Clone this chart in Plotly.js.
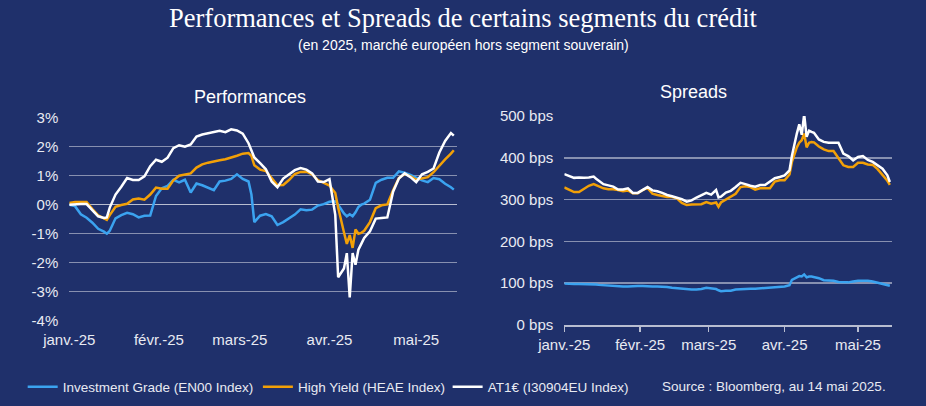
<!DOCTYPE html>
<html>
<head>
<meta charset="utf-8">
<script src="https://cdn.plot.ly/plotly-3.0.1.min.js"></script>
<style>html,body{margin:0;padding:0;background:#1F306B;}#chart{width:926px;height:406px;}</style>
</head>
<body>
<div id="chart"></div>
<script>
const dates = ['2025-01-01','2025-01-03','2025-01-05','2025-01-07','2025-01-09','2025-01-11','2025-01-13','2025-01-14','2025-01-15','2025-01-17','2025-01-19','2025-01-21','2025-01-23','2025-01-25','2025-01-27','2025-01-29','2025-01-31',
'2025-02-02','2025-02-04','2025-02-06','2025-02-08','2025-02-10','2025-02-12','2025-02-14','2025-02-16','2025-02-18','2025-02-20','2025-02-22','2025-02-24','2025-02-26','2025-02-28',
'2025-03-02','2025-03-04','2025-03-05','2025-03-06','2025-03-08','2025-03-10','2025-03-12','2025-03-14','2025-03-16','2025-03-18','2025-03-20','2025-03-22','2025-03-24','2025-03-26','2025-03-28','2025-03-30',
'2025-04-01','2025-04-03','2025-04-04','2025-04-06','2025-04-07','2025-04-08','2025-04-09','2025-04-10','2025-04-11','2025-04-12','2025-04-13','2025-04-15','2025-04-17','2025-04-19','2025-04-21','2025-04-23','2025-04-25','2025-04-27','2025-04-29',
'2025-05-01','2025-05-03','2025-05-05','2025-05-07','2025-05-09','2025-05-11','2025-05-13','2025-05-14'];

// Performances (%)
const perfIG = [0,-0.05,-0.33,-0.45,-0.62,-0.83,-0.93,-1.0,-0.9,-0.47,-0.36,-0.28,-0.33,-0.44,-0.38,-0.37,0.3,
0.57,0.65,0.86,0.77,0.86,0.42,0.73,0.67,0.58,0.5,0.8,0.83,0.89,1.05,
0.89,0.8,0.35,-0.6,-0.38,-0.32,-0.4,-0.7,-0.6,-0.48,-0.34,-0.16,-0.19,-0.17,-0.03,0.02,
0.1,0.12,0.0,-0.3,-0.4,-0.33,-0.4,-0.26,-0.08,0.0,0.04,0.17,0.75,0.86,0.93,0.93,1.15,1.1,1.03,
0.93,0.84,0.78,0.92,0.88,0.72,0.6,0.52];
const perfHY = [0.06,0.09,0.09,0.09,-0.15,-0.37,-0.47,-0.52,-0.36,-0.07,-0.01,0.03,0.18,0.21,0.17,0.35,0.59,
0.55,0.55,0.84,1.0,1.05,1.08,1.28,1.39,1.45,1.5,1.53,1.57,1.62,1.69,
1.76,1.78,1.68,1.36,1.21,1.16,0.92,0.67,0.68,0.85,1.06,1.13,1.14,1.05,0.85,0.75,
0.66,0.4,-0.1,-0.95,-1.35,-1.05,-1.49,-0.85,-1.0,-0.97,-0.9,-0.6,-0.12,-0.02,0.01,0.5,0.92,1.06,0.98,
0.86,0.9,0.95,1.12,1.35,1.56,1.76,1.88];
const perfAT1 = [0,0.02,0.02,0.02,-0.2,-0.4,-0.46,-0.44,-0.1,0.35,0.62,0.92,0.85,0.85,0.98,1.33,1.55,
1.48,1.62,1.95,2.05,2.0,2.08,2.35,2.42,2.46,2.52,2.55,2.5,2.6,2.56,
2.45,2.12,1.85,1.63,1.43,1.22,0.8,0.6,0.9,1.06,1.19,1.26,1.21,1.08,0.8,0.78,
0.88,-0.35,-2.5,-2.2,-1.67,-3.2,-1.67,-2.07,-1.55,-1.35,-1.15,-0.92,-0.48,-0.46,-0.44,0.45,0.9,1.08,0.95,
0.78,1.05,1.13,1.25,1.8,2.2,2.47,2.38];

// Spreads (bps)
const sprIG = [99,98,98,98,98,98,97,97,96,95,94,93,93,92,92,93,93,
93,92,92,92,92,91,89,88,86,85,85,85,86,89,
88,86,83,81,82,82,85,86,86,87,87,88,88,89,90,91,
92,95,108,114,117,116,121,114,116,116,115,112,107,107,106,103,102,102,104,
106,106,106,104,101,98,95,94];
const sprHY = [329,323,318,318,325,333,337,334,331,327,325,325,323,320,322,315,315,
323,328,314,311,309,306,306,303,292,287,288,289,289,294,
290,293,283,293,300,306,314,330,332,330,324,327,327,327,343,346,
346,360,390,425,436,442,458,425,436,438,437,427,420,416,416,400,382,378,378,
388,388,384,383,373,360,345,335];
const sprAT1 = [361,356,352,353,352,353,355,350,346,337,334,331,324,324,327,316,316,
324,330,322,320,316,311,308,305,301,295,298,305,311,316,
312,323,305,307,317,321,330,340,337,333,331,335,335,342,351,354,
358,370,405,458,480,455,504,450,465,462,460,444,438,436,436,436,410,404,394,
402,404,395,390,382,374,358,342];

const seriesNames = ['Investment Grade (EN00 Index)','High Yield (HEAE Index)','AT1€ (I30904EU Index)'];
const seriesColors = ['#3BA3F0','#F2A007','#FFFFFF'];
const tickDates = ['2025-01-01','2025-02-01','2025-03-01','2025-04-01','2025-05-01'];
const tickLabels = ['janv.-25','févr.-25','mars-25','avr.-25','mai-25'];
const perfTicks = [-4,-3,-2,-1,0,1,2,3];
const perfTickLabels = ['-4%','-3%','-2%','-1%','0%','1%','2%','3%'];
const sprTicks = [0,100,200,300,400,500];
const sprTickLabels = ['0 bps','100 bps','200 bps','300 bps','400 bps','500 bps'];

const bg = '#1F306B';
const grid = '#8790B0';
const txt = '#E8EAF2';
const FONT = '"Liberation Sans", Arial, sans-serif';
const xRange = ['2025-01-01','2025-05-15'];

const perf = [perfIG, perfHY, perfAT1];
const spr = [sprIG, sprHY, sprAT1];
const legends = ['legend','legend2','legend3'];
const traces = [];
for (let i = 0; i < 3; i++) {
  traces.push({x: dates, y: perf[i], type:'scatter', mode:'lines', name: seriesNames[i],
    line:{color: seriesColors[i], width:2.5}, xaxis:'x', yaxis:'y', legend: legends[i], showlegend:true, hoverinfo:'skip'});
}
for (let i = 0; i < 3; i++) {
  traces.push({x: dates, y: spr[i], type:'scatter', mode:'lines', name: seriesNames[i],
    line:{color: seriesColors[i], width:2.5}, xaxis:'x2', yaxis:'y2', showlegend:false, hoverinfo:'skip'});
}

const legBase = {orientation:'h', yanchor:'middle', y:0.047, xanchor:'left', bgcolor:'rgba(0,0,0,0)',
  font:{family:FONT, size:13.5, color:txt}, borderwidth:0, itemwidth:30};

const layout = {
  width:926, height:406,
  margin:{l:0,r:0,t:0,b:0},
  paper_bgcolor:bg, plot_bgcolor:bg,
  font:{family:FONT, color:txt},
  xaxis:{domain:[0.0748,0.4932], anchor:'y', type:'date', range:xRange, tickvals:tickDates, ticktext:tickLabels,
    showgrid:false, zeroline:false, showline:false, ticks:'', tickfont:{family:FONT,size:15,color:txt}, ticklabelstandoff:8},
  xaxis3:{overlaying:'x', anchor:'free', position:0.4958, type:'date', range:xRange, tickvals:tickDates,
    showticklabels:false, showgrid:false, zeroline:false, showline:false, ticks:'outside', ticklen:4, tickwidth:1.5, tickcolor:'#B8BDD0'},
  yaxis:{domain:[0.2101,0.7101], anchor:'x', range:[-4,3], tickvals:perfTicks, ticktext:perfTickLabels,
    showgrid:true, gridcolor:grid, gridwidth:1.5, zeroline:true, zerolinecolor:'#B8BDD0', zerolinewidth:1.5,
    showline:false, ticks:'', tickfont:{family:FONT,size:15,color:txt}, ticklabelstandoff:10},
  xaxis2:{domain:[0.6094,0.9636], anchor:'y2', type:'date', range:xRange, tickvals:tickDates, ticktext:tickLabels,
    showgrid:false, zeroline:false, showline:true, linecolor:'#B8BDD0', linewidth:1.5, ticks:'outside', ticklen:5, tickwidth:1.5, tickcolor:'#B8BDD0',
    tickfont:{family:FONT,size:15,color:txt}},
  yaxis2:{domain:[0.1995,0.7143], anchor:'x2', range:[0,500], tickvals:sprTicks, ticktext:sprTickLabels,
    showgrid:true, gridcolor:grid, gridwidth:1.5, zeroline:false, showline:false, ticks:'',
    tickfont:{family:FONT,size:15,color:txt}, ticklabelstandoff:10},
  legend:Object.assign({}, legBase, {x:0.0245}),
  legend2:Object.assign({}, legBase, {x:0.2785}),
  legend3:Object.assign({}, legBase, {x:0.4834}),
  showlegend:true,
  annotations:[
    {text:'Performances et Spreads de certains segments du crédit', xref:'paper', yref:'paper', x:0.5, y:0.956, xanchor:'center', yanchor:'middle', showarrow:false,
      font:{family:'"Liberation Serif", "DejaVu Serif", serif', size:26.5, color:'#FFFFFF'}},
    {text:'(en 2025, marché européen hors segment souverain)', xref:'paper', yref:'paper', x:0.5, y:0.889, xanchor:'center', yanchor:'middle', showarrow:false,
      font:{family:FONT, size:14, color:'#FFFFFF'}},
    {text:'Performances', xref:'paper', yref:'paper', x:0.27, y:0.762, xanchor:'center', yanchor:'middle', showarrow:false,
      font:{family:FONT, size:18, color:'#FFFFFF'}},
    {text:'Spreads', xref:'paper', yref:'paper', x:0.7484, y:0.774, xanchor:'center', yanchor:'middle', showarrow:false,
      font:{family:FONT, size:18, color:'#FFFFFF'}},
    {text:'Source : Bloomberg, au 14 mai 2025.', xref:'paper', yref:'paper', x:0.959, y:0.047, xanchor:'right', yanchor:'middle', showarrow:false,
      font:{family:FONT, size:13.5, color:txt}}
  ]
};

Plotly.newPlot('chart', traces, layout, {staticPlot:true, displayModeBar:false});
</script>
</body>
</html>
